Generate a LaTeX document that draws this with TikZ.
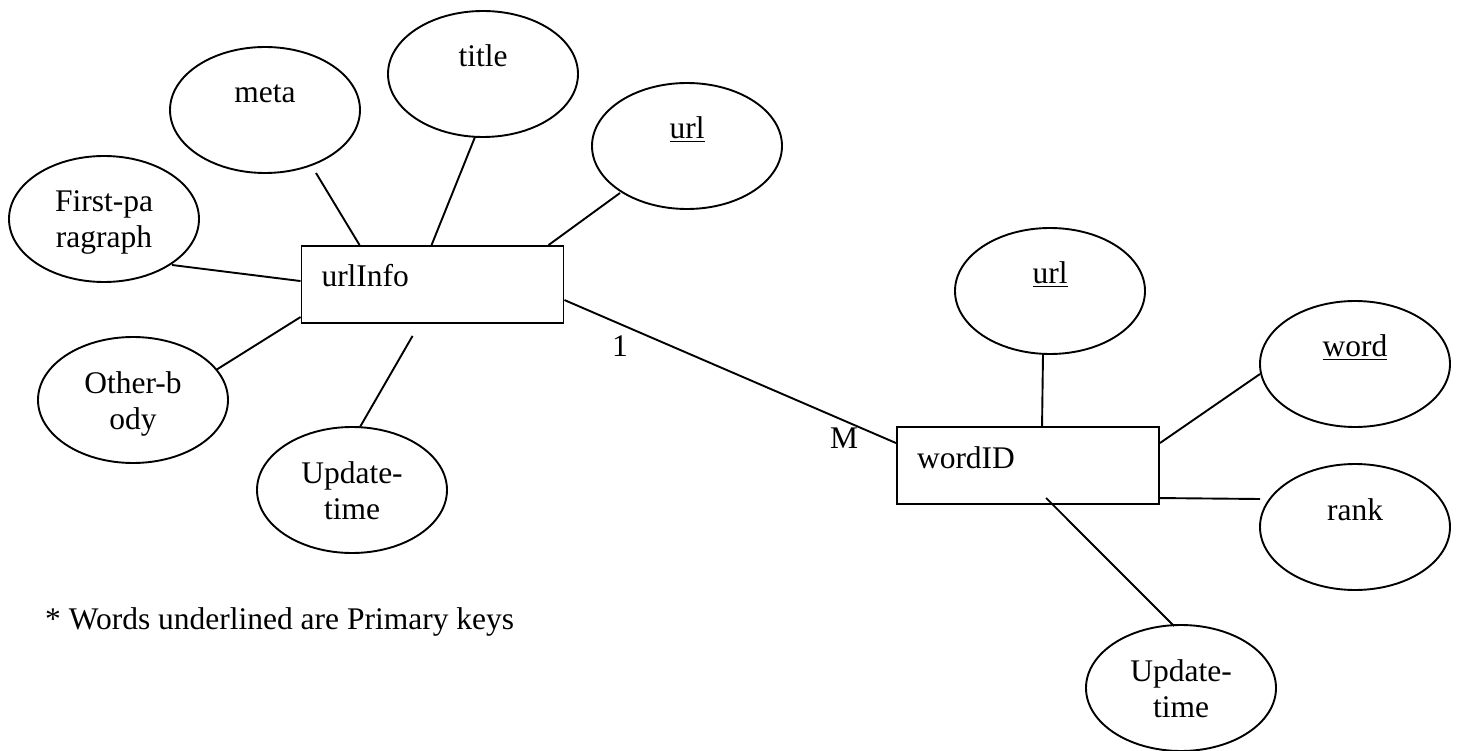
\documentclass[tikz,border=0pt]{standalone}
\usepackage{fontspec}
\setmainfont{Liberation Serif}
\usetikzlibrary{shapes.geometric}
% two centred lines whose baseline is the first line's
\newcommand{\twolines}[2]{\begin{tabular}[t]{@{}c@{}}#1\\#2\end{tabular}}
\begin{document}
\begin{tikzpicture}[x=1pt,y=-1pt,
  every node/.style={font=\fontsize{31.5}{36}\selectfont},
  attr/.style={ellipse, draw, line width=1.9pt, inner sep=0pt,
    minimum width=190pt, minimum height=126pt,
    text height=20pt, text depth=34pt},
  entity/.style={rectangle, draw, line width=1.9pt, inner xsep=20pt, inner ysep=0pt,
    text width=222pt, align=left, minimum height=77pt,
    text height=22pt, text depth=17pt},
  plain/.style={inner sep=0pt},
  link/.style={line width=1.9pt}]
\useasboundingbox (0,0) rectangle (1457,751);

% entities
\node[entity] (urlInfo) at (432.5,284.5) {urlInfo};
\node[entity] (wordID)  at (1028,465.5) {wordID};

% attributes of urlInfo
\node[attr] (meta)  at (265,110) {meta};
\node[attr] (title) at (483,74)  {title};
\node[attr] (urlA)  at (687,146) {\underline{url}};
\node[attr] (first) at (104,219) {\twolines{First-pa}{ragraph}};
\node[attr] (other) at (133,400) {\twolines{Other-b}{ody}};
\node[attr] (updA)  at (352,490) {\twolines{Update-}{time}};

% attributes of wordID
\node[attr] (urlB) at (1050,291)  {\underline{url}};
\node[attr] (word) at (1355,364)  {\underline{word}};
\node[attr] (rank) at (1355,527)  {rank};
\node[attr] (updB) at (1181,688)  {\twolines{Update-}{time}};

% cardinalities and note
\node[plain, anchor=base] (one)  at (620,357) {1};
\node[plain, anchor=base] (many) at (844,448) {M};
\node[plain, anchor=base west] (note) at (45,629) {* Words underlined are Primary keys};

% attribute links of urlInfo
\draw[link] ([shift={(51,63)}]meta.center)   -- ([shift={(59,0)}]urlInfo.north west);
\draw[link] ([shift={(-8,63)}]title.center)  -- ([shift={(131,0)}]urlInfo.north west);
\draw[link] ([shift={(-67,47)}]urlA.center)  -- ([shift={(248,0)}]urlInfo.north west);
\draw[link] ([shift={(68,46)}]first.center)  -- ([shift={(0,36)}]urlInfo.north west);
\draw[link] ([shift={(83,-30)}]other.center) -- ([shift={(0,72)}]urlInfo.north west);
\draw[link] ([shift={(8,-63)}]updA.center)   -- ([shift={(112,12)}]urlInfo.south west);

% relationship
\draw[link] ([shift={(0,55)}]urlInfo.north east) -- ([shift={(0,17)}]wordID.north west);

% attribute links of wordID
\draw[link] ([shift={(-7,63)}]urlB.center)   -- ([shift={(146,0)}]wordID.north west);
\draw[link] ([shift={(-95,10)}]word.center)  -- ([shift={(0,17)}]wordID.north east);
\draw[link] ([shift={(-95,-28)}]rank.center) -- ([shift={(0,72)}]wordID.north east);
\draw[link] ([shift={(-7,-62)}]updB.center)  -- ([shift={(150,-7)}]wordID.south west);
\end{tikzpicture}
\end{document}
